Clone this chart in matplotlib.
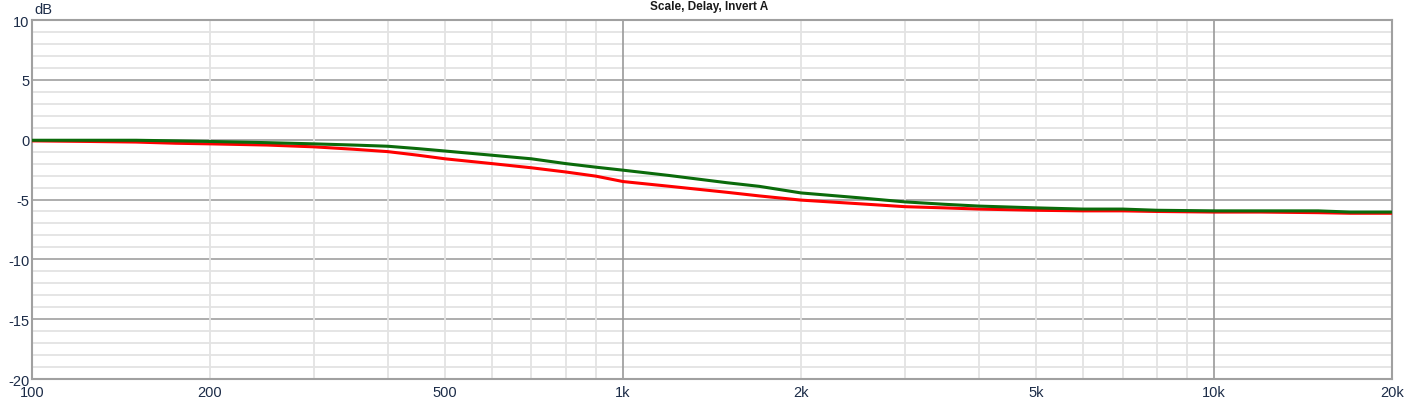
import numpy as np
import matplotlib
matplotlib.use("Agg")
import matplotlib.pyplot as plt

# frequency points (Hz) and levels (dB)
freq = [100, 125, 150, 175, 200, 250, 300, 350, 400, 450, 500, 600, 700, 800, 900,
        1000, 1200, 1500, 1700, 2000, 2500, 3000, 3500, 4000, 5000, 6000, 7000, 8000,
        10000, 12000, 15000, 17000, 20000]
green_db = [-0.05, -0.05, -0.05, -0.1, -0.15, -0.25, -0.35, -0.45, -0.55, -0.75, -0.95, -1.3, -1.6, -2.0, -2.3,
            -2.55, -3.0, -3.6, -3.9, -4.45, -4.85, -5.2, -5.4, -5.55, -5.7, -5.8, -5.8, -5.9,
            -5.95, -5.95, -5.95, -6.05, -6.05]
red_db = [-0.1, -0.15, -0.2, -0.3, -0.35, -0.45, -0.6, -0.8, -1.0, -1.3, -1.6, -2.0, -2.35, -2.7, -3.05,
          -3.5, -3.9, -4.4, -4.7, -5.05, -5.35, -5.6, -5.7, -5.8, -5.9, -5.95, -5.95, -6.0,
          -6.05, -6.05, -6.1, -6.15, -6.15]

xtick_vals = [100, 200, 500, 1000, 2000, 5000, 10000, 20000]
xtick_labels = ["100", "200", "500", "1k", "2k", "5k", "10k", "20k"]
ytick_vals = [10, 5, 0, -5, -10, -15, -20]

plt.rcParams['font.family'] = ['Liberation Sans', 'DejaVu Sans']
plt.rcParams['axes.unicode_minus'] = False

fig = plt.figure(figsize=(14.19, 4.02), dpi=100)
ax = fig.add_axes([32 / 1419, 22 / 402, 1360 / 1419, 359 / 402])
ax.set_xscale('log')
ax.set_xlim(100, 20000)
ax.set_ylim(-20, 10)

# grid: minor every 1 dB / every 1-9 within decade, major darker
for y in range(-19, 10):
    if y % 5 != 0:
        ax.axhline(y, color='#e3e3e3', lw=1.3, zorder=0)
for y in [5, 0, -5, -10, -15]:
    ax.axhline(y, color='#a0a0a0', lw=1.2, zorder=0)
for dec in [100, 1000, 10000]:
    for m in range(2, 10):
        f = dec * m
        if f < 20000:
            ax.axvline(f, color='#e3e3e3', lw=1.3, zorder=0)
for f in [1000, 10000]:
    ax.axvline(f, color='#9a9a9a', lw=1.2, zorder=0)

ax.plot(freq, red_db, color='#ff0000', lw=2.2, zorder=3)
ax.plot(freq, green_db, color='#0b6b0b', lw=2.2, zorder=4)

ax.set_xticks(xtick_vals)
ax.set_xticklabels(xtick_labels)
ax.xaxis.set_minor_locator(matplotlib.ticker.NullLocator())
ax.set_yticks(ytick_vals)
ax.tick_params(length=0, labelsize=10.5, labelcolor='#1c2c48', pad=2)
ax.tick_params(axis='x', pad=4)

for s in ax.spines.values():
    s.set_color('#a0a0a0')
    s.set_linewidth(1.5)

fig.text(34 / 1419, 1 - 10 / 402, "dB", fontsize=10.5, color='#1c2c48', va='center', ha='left')
fig.text(0.5, 1 - 7 / 402, "Scale, Delay, Invert A", fontsize=8.5, fontweight='bold',
         color='#1a1a1a', va='center', ha='center')

fig.savefig("out.png", dpi=100, facecolor='white')
